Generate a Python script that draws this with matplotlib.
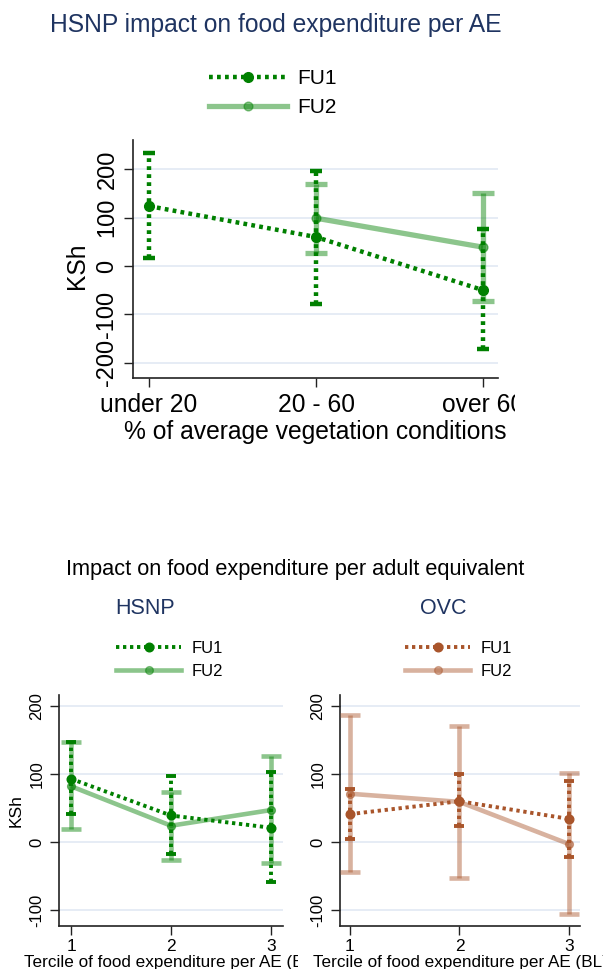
import matplotlib
matplotlib.use("Agg")
import matplotlib.pyplot as plt
from matplotlib.lines import Line2D
from matplotlib.transforms import Bbox, TransformedBbox

plt.rcParams["font.family"] = ["Liberation Sans", "DejaVu Sans"]
plt.rcParams["axes.unicode_minus"] = False

# ---- data -------------------------------------------------------------
veg_cats = ["under 20", "20 - 60", "over 60"]
veg_fu1 = [124, 60, -50]
veg_fu1_lo = [17, -79, -172]
veg_fu1_hi = [234, 197, 77]
veg_fu2_cats = ["20 - 60", "over 60"]
veg_fu2 = [99, 39]
veg_fu2_lo = [27, -72]
veg_fu2_hi = [170, 151]

terciles = [1, 2, 3]
hsnp_fu1 = [93, 39, 21]
hsnp_fu1_lo = [41, -18, -59]
hsnp_fu1_hi = [147, 97, 103]
hsnp_fu2 = [82, 24, 47]
hsnp_fu2_lo = [19, -26, -31]
hsnp_fu2_hi = [147, 73, 126]

ovc_fu1 = [41, 60, 34]
ovc_fu1_lo = [4, 23, -22]
ovc_fu1_hi = [78, 100, 90]
ovc_fu2 = [71, 59, -3]
ovc_fu2_lo = [-44, -53, -106]
ovc_fu2_hi = [187, 171, 101]

# ---- styles -----------------------------------------------------------
GREEN = "#008000"
BROWN = "#a9552b"
NAVY = "#1f3461"
GRID = "#e4eaf4"
DOT = (0, (0.85, 0.95))

W, H = 603, 969
fig = plt.figure(figsize=(W / 100, H / 100), dpi=100)


def fx(px):
    return px / W


def fy(py):
    return 1 - py / H


def axes_px(left, top, right, bottom):
    return fig.add_axes([fx(left), fy(bottom), fx(right - left), (bottom - top) / H])


def style_axes(ax, yticks, fs):
    for s in ("top", "right"):
        ax.spines[s].set_visible(False)
    for s in ("left", "bottom"):
        ax.spines[s].set_linewidth(1.2)
        ax.spines[s].set_color("#222222")
    ax.set_yticks(yticks)
    ax.tick_params(axis="both", length=6.5, width=1.0, color="#222222",
                   labelsize=fs, pad=4)
    for lab in ax.get_yticklabels():
        lab.set_rotation(90)
        lab.set_va("center")
    ax.grid(axis="y", color=GRID, linewidth=1.3)
    ax.set_axisbelow(True)


def draw_series(ax, x, y, lo, hi, color, dotted, lw_dot, lw_sol, ms, cap):
    yerr = [[v - l for v, l in zip(y, lo)], [h - v for v, h in zip(y, hi)]]
    if dotted:
        eb = ax.errorbar(x, y, yerr=yerr, fmt="none", ecolor=color,
                         elinewidth=lw_dot, capsize=cap * 0.55, capthick=lw_dot,
                         zorder=4)
        eb[2][0].set_linestyle(DOT)
        ax.plot(x, y, color=color, lw=lw_dot, ls=DOT, marker="o",
                ms=ms, zorder=5, dash_capstyle="butt")
    else:
        ax.errorbar(x, y, yerr=yerr, fmt="none", ecolor=color, alpha=0.45,
                    elinewidth=lw_sol, capsize=cap, capthick=lw_sol, zorder=3)
        ax.plot(x, y, color=color, lw=lw_sol, alpha=0.45, zorder=3,
                solid_capstyle="butt")
        ax.plot(x, y, ls="none", marker="o", ms=ms * 0.9, color=color,
                alpha=0.55, zorder=3)


def legend_handles(color, lw_dot, lw_sol, ms):
    h1 = Line2D([], [], color=color, lw=lw_dot, ls=DOT, marker="o", ms=ms)
    h2 = Line2D([], [], color=color, lw=lw_sol, alpha=0.45, marker="o",
                ms=ms * 0.9, markerfacecolor=color, markeredgecolor=color)
    return [h1, h2]


def clip_text(txt, right_px):
    box = TransformedBbox(Bbox([[0, 0], [right_px / W, 1]]), fig.transFigure)
    txt.set_clip_box(box)
    txt.set_clip_on(True)


# ---- top panel: vegetation conditions --------------------------------
fig.text(fx(276), fy(25), "HSNP impact on food expenditure per AE",
         ha="center", va="center", fontsize=17.7, color=NAVY)

ax = axes_px(133, 140, 498, 378)
veg_pos = {c: i + 1 for i, c in enumerate(veg_cats)}
draw_series(ax, [veg_pos[c] for c in veg_cats], veg_fu1, veg_fu1_lo, veg_fu1_hi,
            GREEN, True, 3.2, 3.8, 7, 8)
draw_series(ax, [veg_pos[c] for c in veg_fu2_cats], veg_fu2, veg_fu2_lo, veg_fu2_hi,
            GREEN, False, 3.2, 3.8, 7, 8)
ax.set_xlim(0.904, 3.09)
ax.set_ylim(-231.9, 260.9)
ax.set_xticks([1, 2, 3])
ax.set_xticklabels(veg_cats)
style_axes(ax, [-200, -100, 0, 100, 200], 17)
ax.tick_params(axis="x", labelsize=17.7, pad=4)
ax.set_ylabel("KSh", fontsize=17.7)
ax.yaxis.set_label_coords(-0.12, 0.47)
ax.set_xlabel("% of average vegetation conditions", fontsize=17.7)
ax.xaxis.set_label_coords(0.5, -0.175)
for lab in ax.get_xticklabels():
    clip_text(lab, 515)

fig.legend(handles=legend_handles(GREEN, 3.2, 3.8, 7), labels=["FU1", "FU2"],
           loc="center left", bbox_to_anchor=(fx(209), fy(93)),
           frameon=False, fontsize=15, handlelength=3.75, handletextpad=0.5,
           labelspacing=0.5, borderpad=0, borderaxespad=0)

# ---- bottom panels: terciles -----------------------------------------
fig.text(fx(295), fy(570), "Impact on food expenditure per adult equivalent",
         ha="center", va="center", fontsize=15.7, color="black")

panels = [
    ("HSNP", GREEN, (59, 283), (0.88, 3.12), 145, 116,
     (hsnp_fu1, hsnp_fu1_lo, hsnp_fu1_hi, hsnp_fu2, hsnp_fu2_lo, hsnp_fu2_hi)),
    ("OVC", BROWN, (340, 580), (0.91, 3.10), 443, 405,
     (ovc_fu1, ovc_fu1_lo, ovc_fu1_hi, ovc_fu2, ovc_fu2_lo, ovc_fu2_hi)),
]

for i, (name, color, (l, r), xl, title_x, leg_x, vals) in enumerate(panels):
    f1, f1lo, f1hi, f2, f2lo, f2hi = vals
    ax = axes_px(l, 695, r, 926)
    draw_series(ax, terciles, f2, f2lo, f2hi, color, False, 2.8, 3.3, 6.2, 7)
    draw_series(ax, terciles, f1, f1lo, f1hi, color, True, 2.8, 3.3, 6.2, 7)
    ax.set_xlim(*xl)
    ax.set_ylim(-123.5, 216.2)
    ax.set_xticks(terciles)
    style_axes(ax, [-100, 0, 100, 200], 12)
    ax.tick_params(axis="x", labelsize=12.5, pad=3)
    if i == 0:
        ax.set_ylabel("KSh", fontsize=12.5)
        ax.yaxis.set_label_coords(-0.16, 0.5)
    xlab = ax.set_xlabel("Tercile of food expenditure per AE (BL)", fontsize=12.3)
    ax.xaxis.set_label_coords(0.5, -0.125)
    clip_text(xlab, 298 if i == 0 else 603)
    fig.text(fx(title_x), fy(608), name, ha="center", va="center",
             fontsize=15.5, color=NAVY)
    fig.legend(handles=legend_handles(color, 2.8, 3.3, 6.2), labels=["FU1", "FU2"],
               loc="center left", bbox_to_anchor=(fx(leg_x), fy(660)),
               frameon=False, fontsize=12, handlelength=3.9, handletextpad=0.65,
               labelspacing=0.5, borderpad=0, borderaxespad=0)

fig.savefig("out.png", dpi=100)
